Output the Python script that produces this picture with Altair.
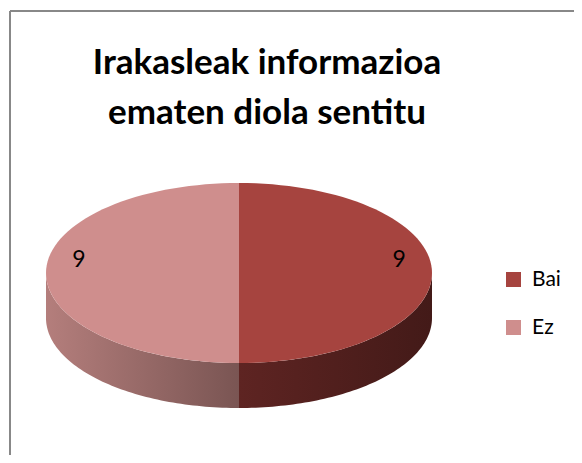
import altair as alt
import pandas as pd

# ---- data ----
categories = ["Bai", "Ez"]
values = [9, 9]
title_lines = ["Irakasleak informazioa", "ematen diola sentitu"]

# ---- styles / layout ----
top_colors = ["#A6443F", "#CF8E8D"]
side_gradients = {"Bai": ["#5E2422", "#431A18"], "Ez": ["#B47E7C", "#7A5553"]}
W, H = 566, 447
CX, CY, RA, RB, DEPTH = 231, 265, 193, 90, 45
N = 72
FONT = "Lato"

df = pd.DataFrame({"category": categories, "value": values, "order": list(range(len(categories)))})

xs = alt.Scale(domain=[0, W], nice=False, zero=False)
ys = alt.Scale(domain=[0, H], nice=False, zero=False, reverse=True)


def slices(chart):
    return (
        chart.transform_joinaggregate(total="sum(value)")
        .transform_window(cum="sum(value)", sort=[alt.SortField("order")], frame=[None, 0])
        .transform_calculate(
            t0="2*PI*(datum.cum-datum.value)/datum.total",
            t1="2*PI*datum.cum/datum.total",
        )
    )


# side walls (front half only), one layer per category for the gradient
side_layers = []
for cat in categories:
    c0, c1 = side_gradients[cat]
    side = (
        slices(alt.Chart(df))
        .transform_filter(alt.datum.category == cat)
        .transform_calculate(s="max(datum.t0, PI/2)", e="min(datum.t1, 3*PI/2)")
        .transform_filter("datum.s < datum.e")
        .transform_calculate(k=f"sequence(0, {2 * N + 2})")
        .transform_flatten(["k"])
        .transform_calculate(
            th=f"datum.k <= {N} ? datum.s + (datum.e-datum.s)*datum.k/{N} : datum.s + (datum.e-datum.s)*({2 * N + 1}-datum.k)/{N}",
        )
        .transform_calculate(
            px=f"{CX} + {RA}*sin(datum.th)",
            py=f"{CY} - {RB}*cos(datum.th) + (datum.k > {N} ? {DEPTH} : 0)",
        )
        .mark_line(
            filled=True,
            fill=alt.Gradient(
                gradient="linear",
                x1=0, x2=1, y1=0, y2=0,
                stops=[alt.GradientStop(color=c0, offset=0), alt.GradientStop(color=c1, offset=1)],
            ),
            stroke=None,
        )
        .encode(
            x=alt.X("px:Q", scale=xs, axis=None),
            y=alt.Y("py:Q", scale=ys, axis=None),
            order=alt.Order("k:Q"),
        )
    )
    side_layers.append(side)

# top faces
tops = (
    slices(alt.Chart(df))
    .transform_calculate(k=f"sequence(-1, {N + 1})")
    .transform_flatten(["k"])
    .transform_calculate(th=f"datum.t0 + (datum.t1-datum.t0)*max(datum.k,0)/{N}")
    .transform_calculate(
        px=f"datum.k < 0 ? {CX} : {CX} + {RA}*sin(datum.th)",
        py=f"datum.k < 0 ? {CY} : {CY} - {RB}*cos(datum.th)",
    )
    .mark_line(filled=True)
    .encode(
        x=alt.X("px:Q", scale=xs, axis=None),
        y=alt.Y("py:Q", scale=ys, axis=None),
        order=alt.Order("k:Q"),
        color=alt.Color(
            "category:N",
            scale=alt.Scale(domain=categories, range=top_colors),
            legend=alt.Legend(
                title=None,
                orient="none",
                legendX=495,
                legendY=261,
                symbolType="square",
                symbolSize=225,
                symbolStrokeWidth=0,
                symbolOpacity=1,
                labelFont=FONT,
                labelFontSize=21,
                labelColor="black",
                labelOffset=8,
                rowPadding=26,
                padding=0,
                labelExpr="datum.label == 'Bai' ? '\u00a0Bai' : datum.label",
            ),
        ),
    )
)

# data labels
labels = (
    slices(alt.Chart(df))
    .transform_calculate(mid="(datum.t0+datum.t1)/2")
    .transform_calculate(
        lx=f"{CX} + 0.83*{RA}*sin(datum.mid)",
        ly=f"{CY} - 0.83*{RB}*cos(datum.mid) - 13",
    )
    .mark_text(font=FONT, fontSize=23, color="black", align="center", baseline="middle")
    .encode(
        x=alt.X("lx:Q", scale=xs, axis=None),
        y=alt.Y("ly:Q", scale=ys, axis=None),
        text=alt.Text("value:Q"),
    )
)

# chart-area frame (left and top edges visible)
frame_df = pd.DataFrame({"f": [0]})
left_edge = alt.Chart(frame_df).mark_rule(color="#888888", strokeWidth=2).encode(
    x=alt.value(2), y=alt.value(3), y2=alt.value(H)
)
top_edge = alt.Chart(frame_df).mark_rule(color="#888888", strokeWidth=2).encode(
    x=alt.value(2), x2=alt.value(W), y=alt.value(3)
)

chart = (
    alt.layer(left_edge, top_edge, *side_layers, tops, labels)
    .properties(
        width=W,
        height=H,
        padding=0,
        autosize="none",
        background="white",
        title=alt.TitleParams(
            text=title_lines,
            font=FONT,
            fontSize=35,
            fontWeight="bold",
            color="black",
            lineHeight=50,
            anchor="middle",
            frame="group",
            baseline="alphabetic",
            offset=0,
            dx=-24,
            dy=151,
        ),
    )
    .configure_view(stroke=None)
)

chart.save("out.html", embed_options={"renderer": "svg", "actions": False})
